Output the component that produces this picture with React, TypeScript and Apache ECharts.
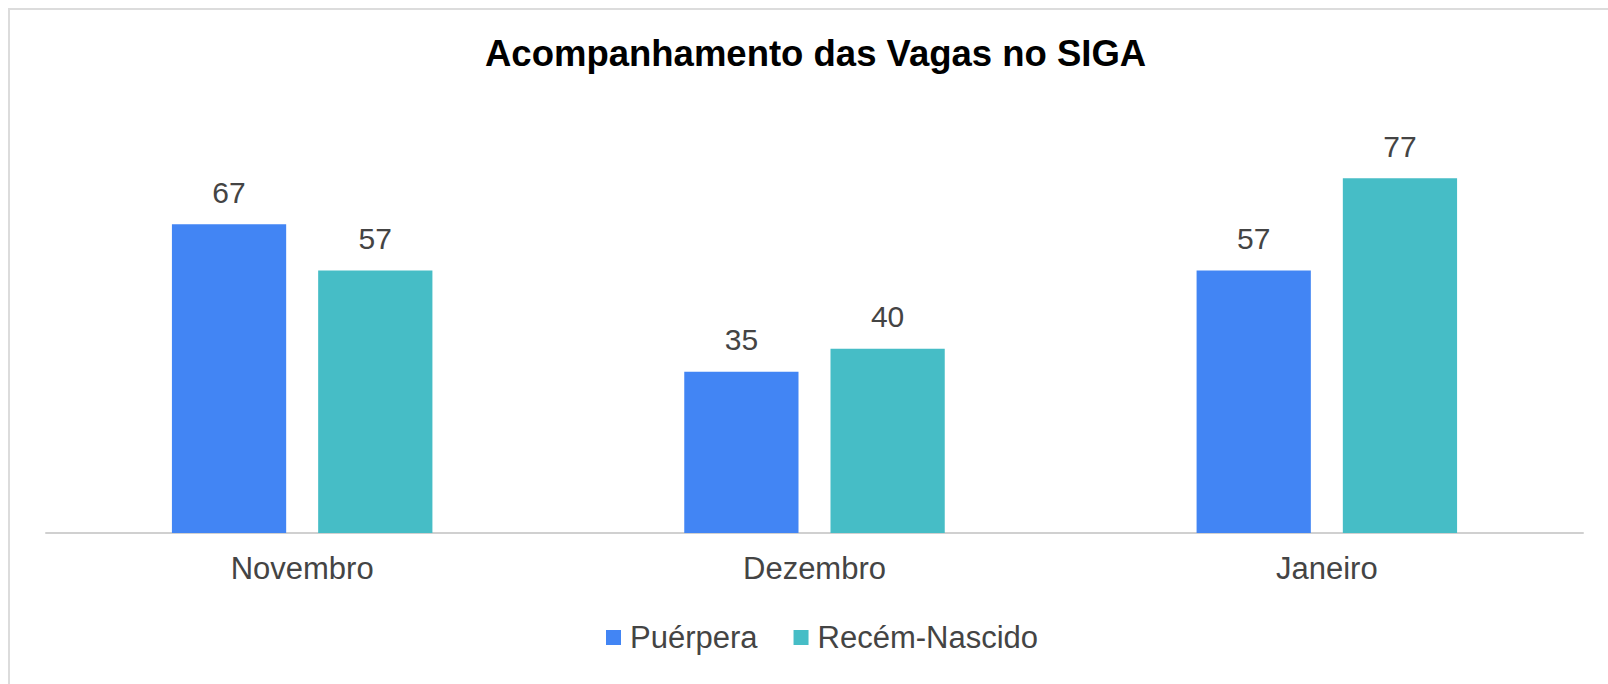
import React, { useEffect, useRef } from "react";
import * as echarts from "echarts";

const categories = ["Novembro", "Dezembro", "Janeiro"];
const seriesNames = ["Puérpera", "Recém-Nascido"];
const puerpera = [67, 35, 57];
const recemNascido = [57, 40, 77];
const chartTitle = "Acompanhamento das Vagas no SIGA";

const FONT = "'Liberation Sans', Arial, sans-serif";

export default function App() {
  const ref = useRef<HTMLDivElement>(null);

  useEffect(() => {
    if (!ref.current) return;
    const chart = echarts.init(ref.current, undefined, { renderer: "svg" });
    const labelStyle = {
      show: true,
      position: "top" as const,
      distance: 17,
      fontSize: 30,
      color: "#444444",
      fontFamily: FONT,
    };
    chart.setOption({
      animation: false,
      backgroundColor: "#ffffff",
      title: {
        text: chartTitle,
        left: 485,
        top: 35,
        padding: 0,
        textStyle: { fontSize: 36.5, fontWeight: "bold", color: "#000000", fontFamily: FONT },
      },
      legend: {
        data: seriesNames,
        left: 606,
        top: 622,
        padding: 0,
        itemWidth: 15,
        itemHeight: 15,
        itemGap: 36,
        icon: "rect",
        textStyle: { fontSize: 31, color: "#444444", fontFamily: FONT, padding: [0, 0, 0, 4] },
      },
      grid: { left: 46, right: 25, top: 118.4, bottom: 151, containLabel: false },
      xAxis: {
        type: "category",
        data: categories,
        axisLine: { show: true, lineStyle: { color: "#d0d0d0", width: 2 } },
        axisTick: { show: false },
        axisLabel: { fontSize: 31, color: "#444444", fontFamily: FONT, margin: 20 },
      },
      yAxis: {
        type: "value",
        min: 0,
        max: 90,
        show: false,
        splitLine: { show: false },
      },
      graphic: [
        {
          type: "rect",
          shape: { x: 9, y: 9, width: 1700, height: 800 },
          style: { fill: "none", stroke: "#dcdcdc", lineWidth: 2 },
          silent: true,
        },
      ],
      series: [
        {
          name: seriesNames[0],
          type: "bar",
          data: puerpera,
          barWidth: "22.3%",
          barGap: "28%",
          itemStyle: { color: "#4285F4" },
          label: labelStyle,
        },
        {
          name: seriesNames[1],
          type: "bar",
          data: recemNascido,
          barWidth: "22.3%",
          barGap: "28%",
          itemStyle: { color: "#46BDC6" },
          label: labelStyle,
        },
      ],
    });
    return () => chart.dispose();
  }, []);

  return (
    <div
      ref={ref}
      style={{ position: "fixed", left: 0, top: 0, width: 1608, height: 684 }}
    />
  );
}
